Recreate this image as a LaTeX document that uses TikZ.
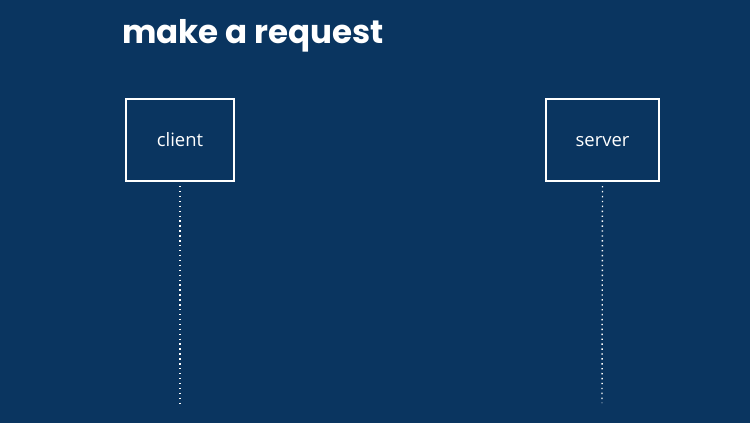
\documentclass[tikz,border=0pt]{standalone}
\usepackage{fontspec}
\setmainfont{Open Sans}
\newfontfamily\titlefont{Poppins}
\usetikzlibrary{positioning}
\definecolor{bgblue}{HTML}{0A3560}
\tikzset{
  party/.style={draw=white, line width=1.2pt, text=white, minimum width=108\pxu, minimum height=82\pxu, inner sep=0pt, text height=1.6ex, text depth=0.3ex, font=\fontsize{10.5}{12}\selectfont},
  lifeline/.style={white, dotted, line width=0.8pt}
}
\newlength{\pxu}
\setlength{\pxu}{0.02cm}
\begin{document}
\begin{tikzpicture}[x=0.02cm, y=-0.02cm]
  \fill[bgblue] (0,0) rectangle (750,423);
  \node[anchor=west, text=white, inner sep=0pt, font=\titlefont\bfseries\fontsize{18.5}{22}\selectfont] (title) at (122,36) {make a request};
  \node[party] (client) at (180,140) {client};
  \node[party, minimum width=113\pxu] (server) at (602.5,140) {server};
  \coordinate (clientend) at (180,403);
  \coordinate (serverend) at (602,403);
  \draw[lifeline] ([yshift=-4\pxu]client.south) -- (clientend);
  \draw[lifeline] ([yshift=-4\pxu]server.south) -- (serverend);
\end{tikzpicture}
\end{document}
